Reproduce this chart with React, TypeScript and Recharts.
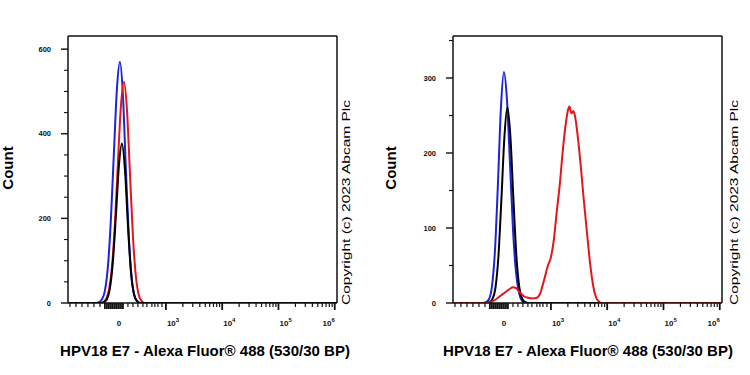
import React from 'react';
import { LineChart, Line, XAxis, YAxis, ReferenceLine } from 'recharts';

// x = position on the biexponential display axis in decade units
// (10^3 -> 3, 10^4 -> 4 ...); the 0 of the linear part sits at 2.165
type Pt = [number, number];

const leftBlue: Pt[] = [
  [1.757, 0], [1.81, 2], [1.863, 9], [1.917, 30], [1.97, 87], [2.023, 200], [2.076, 356],
  [2.13, 507], [2.183, 570], [2.236, 491], [2.289, 314], [2.343, 150], [2.396, 53],
  [2.449, 14], [2.503, 3], [2.556, 0],
];
const leftRed: Pt[] = [
  [1.828, 0], [1.881, 2], [1.934, 9], [1.988, 31], [2.041, 85], [2.094, 188], [2.147, 332],
  [2.201, 467], [2.254, 523], [2.307, 458], [2.361, 306], [2.414, 157], [2.467, 62],
  [2.52, 18], [2.574, 4], [2.627, 0],
];
const leftBlack: Pt[] = [
  [1.845, 0], [1.898, 2], [1.952, 9], [2.005, 35], [2.058, 99], [2.112, 208], [2.165, 325],
  [2.218, 377], [2.272, 315], [2.325, 184], [2.378, 75], [2.432, 21], [2.485, 4], [2.538, 0],
];

const rightBlue: Pt[] = [
  [1.792, 0], [1.845, 1], [1.899, 5], [1.952, 22], [2.005, 69], [2.058, 158], [2.112, 261],
  [2.165, 308], [2.218, 272], [2.272, 187], [2.325, 100], [2.378, 42], [2.432, 14],
  [2.485, 3], [2.538, 0],
];
const rightBlack: Pt[] = [
  [1.854, 0], [1.907, 1], [1.96, 5], [2.014, 20], [2.067, 62], [2.12, 138], [2.174, 222],
  [2.227, 261], [2.28, 222], [2.334, 138], [2.387, 62], [2.44, 20], [2.494, 5], [2.547, 1],
  [2.6, 0],
];
const rightRed: Pt[] = [
  [1.81, 0], [1.917, 1], [2.005, 4], [2.094, 9], [2.183, 14], [2.272, 19], [2.325, 21],
  [2.378, 20], [2.449, 14], [2.52, 9], [2.591, 7], [2.68, 6], [2.751, 7], [2.805, 12],
  [2.876, 30], [2.947, 50], [3.0, 61], [3.053, 85], [3.107, 124], [3.16, 160], [3.213, 205],
  [3.266, 240], [3.302, 257], [3.329, 262], [3.364, 253], [3.4, 256], [3.426, 250],
  [3.48, 220], [3.533, 180], [3.586, 136], [3.639, 95], [3.693, 55], [3.746, 25],
  [3.799, 8], [3.853, 2], [3.906, 0],
];

const xMin = 1.26;
const xMax = 6.04;
const xMajor = [2.165, 3, 4, 5, 6];
const xLabelBase = ['0', '10', '10', '10', '10'];
const xLabelExp = ['', '3', '4', '5', '6'];
// small ticks of the linear part around 0
const xLinearTicks = [1.295, 1.401, 1.508, 1.614, 1.721, 1.828, 2.325, 2.414, 2.502, 2.591, 2.662, 2.751, 2.804, 2.858, 2.929];
const xZeroTicks = [1.916, 1.952, 1.987, 2.023, 2.058, 2.094, 2.129, 2.201, 2.236];
const xLogTicks: number[] = [];
[3, 4, 5].forEach((d) => {
  for (let k = 2; k <= 9; k++) xLogTicks.push(d + Math.log10(k));
});
const xTicks = [...xLinearTicks, ...xZeroTicks, ...xLogTicks, ...xMajor].sort((a, b) => a - b);

const leftYMax = 631;
const leftYMajor = [0, 200, 400, 600];
const rightYMax = 356;
const rightYMajor = [0, 100, 200, 300];

const xTitle = 'HPV18 E7 - Alexa Fluor® 488 (530/30 BP)';
const yTitle = 'Count';
const copyright = 'Copyright (c) 2023 Abcam Plc';

const BLUE = '#1e22d8';
const RED = '#e3161c';
const BLACK = '#000000';
const AXIS = '#111111';
const FONT = '"Liberation Sans", Arial, sans-serif';

const AXIS_W = 30; // room the axes take, ticks drawn by hand inside it

const XTick = (props: any) => {
  const { x, y, payload } = props;
  const v = payload.value;
  const i = xMajor.indexOf(v);
  if (i >= 0) {
    const exp = xLabelExp[i];
    const anchor = i === 0 ? 'middle' : i === 4 ? 'end' : 'start';
    const tx = i === 0 || i === 4 ? x : x + 1;
    return (
      <g>
        <line x1={x} x2={x} y1={y} y2={y + (i === 0 ? 6 : 7)} stroke={AXIS} strokeWidth={1.8} />
        <text x={tx} y={y + 23} textAnchor={anchor} fontSize={8} fontWeight="bold" fontFamily={FONT} fill="#111">
          <tspan>{xLabelBase[i]}</tspan>
          {exp && <tspan dy={-4.5} fontSize={6}>{exp}</tspan>}
        </text>
      </g>
    );
  }
  const zero = xZeroTicks.includes(v);
  return (
    <line x1={x} x2={x} y1={y} y2={y + (zero ? 6 : 4)} stroke={AXIS} strokeWidth={zero ? 1.8 : 1.2} />
  );
};

const makeYTick = (majors: number[]) => (props: any) => {
  const { x, y, payload } = props;
  const major = majors.includes(payload.value);
  return (
    <g>
      <line x1={x} x2={x - (major ? 7 : 4)} y1={y} y2={y} stroke={AXIS} strokeWidth={major ? 1.4 : 1.1} />
      {major && (
        <text x={x - 17} y={y} dy="0.35em" textAnchor="end" fontSize={7.5} fontWeight="bold" fontFamily={FONT} fill="#111">
          {payload.value}
        </text>
      )}
    </g>
  );
};

const toRows = (pts: Pt[]) => [
  { x: xMin, y: 0 },
  ...pts.map(([x, y]) => ({ x, y })),
  { x: xMax, y: 0 },
];

interface Series {
  name: string;
  pts: Pt[];
  color: string;
}

interface HistProps {
  left: number;
  marginLeft: number;
  marginRight: number;
  series: Series[];
  yMax: number;
  yMajor: number[];
}

const Histogram = ({ left, marginLeft, marginRight, series, yMax, yMajor }: HistProps) => {
  const yTicks: number[] = [];
  for (let v = 0; v <= yMax; v += 50) yTicks.push(v);
  return (
    <div style={{ position: 'absolute', left, top: 0 }}>
      <LineChart
        width={375}
        height={375}
        margin={{ top: 36, right: marginRight, bottom: 72 - AXIS_W, left: marginLeft - AXIS_W }}
      >
        <XAxis
          dataKey="x"
          type="number"
          domain={[xMin, xMax]}
          allowDataOverflow
          ticks={xTicks}
          interval={0}
          height={AXIS_W}
          tickSize={0}
          tickMargin={0}
          tick={XTick}
          axisLine={{ stroke: AXIS, strokeWidth: 1.5 }}
        />
        <YAxis
          type="number"
          domain={[0, yMax]}
          allowDataOverflow
          ticks={yTicks}
          interval={0}
          width={AXIS_W}
          tickSize={0}
          tickMargin={0}
          tick={makeYTick(yMajor)}
          axisLine={{ stroke: AXIS, strokeWidth: 1.5 }}
        />
        <ReferenceLine y={yMax} stroke={AXIS} strokeWidth={1.5} />
        <ReferenceLine x={xMax} stroke={AXIS} strokeWidth={1.5} />
        {series.map((s) => (
          <Line
            key={s.name}
            data={toRows(s.pts)}
            dataKey="y"
            type="monotone"
            stroke={s.color}
            strokeWidth={2}
            dot={false}
            isAnimationActive={false}
          />
        ))}
      </LineChart>
    </div>
  );
};

const App = () => {
  return (
    <div style={{ position: 'absolute', left: 0, top: 0, width: 750, height: 375, background: '#fff', overflow: 'hidden' }}>
      <Histogram
        left={0}
        marginLeft={68}
        marginRight={38}
        yMax={leftYMax}
        yMajor={leftYMajor}
        series={[
          { name: 'blue', pts: leftBlue, color: BLUE },
          { name: 'red', pts: leftRed, color: RED },
          { name: 'black', pts: leftBlack, color: BLACK },
        ]}
      />
      <Histogram
        left={375}
        marginLeft={78}
        marginRight={28}
        yMax={rightYMax}
        yMajor={rightYMajor}
        series={[
          { name: 'blue', pts: rightBlue, color: BLUE },
          { name: 'black', pts: rightBlack, color: BLACK },
          { name: 'red', pts: rightRed, color: RED },
        ]}
      />
      <svg width={750} height={375} style={{ position: 'absolute', left: 0, top: 0, pointerEvents: 'none' }}>
        <g fontFamily={FONT} fill="#000">
          <text transform="translate(13,168) rotate(-90)" textAnchor="middle" fontSize={15} fontWeight="bold">{yTitle}</text>
          <text transform="translate(396,168) rotate(-90)" textAnchor="middle" fontSize={15} fontWeight="bold">{yTitle}</text>
          <text x={205} y={356} textAnchor="middle" fontSize={15} fontWeight="bold">{xTitle}</text>
          <text x={588} y={356} textAnchor="middle" fontSize={15} fontWeight="bold">{xTitle}</text>
          <text transform="translate(350,305) rotate(-90)" fontSize={10} textLength={205} lengthAdjust="spacingAndGlyphs">{copyright}</text>
          <text transform="translate(738,305) rotate(-90)" fontSize={10} textLength={205} lengthAdjust="spacingAndGlyphs">{copyright}</text>
        </g>
      </svg>
    </div>
  );
};

export default App;
